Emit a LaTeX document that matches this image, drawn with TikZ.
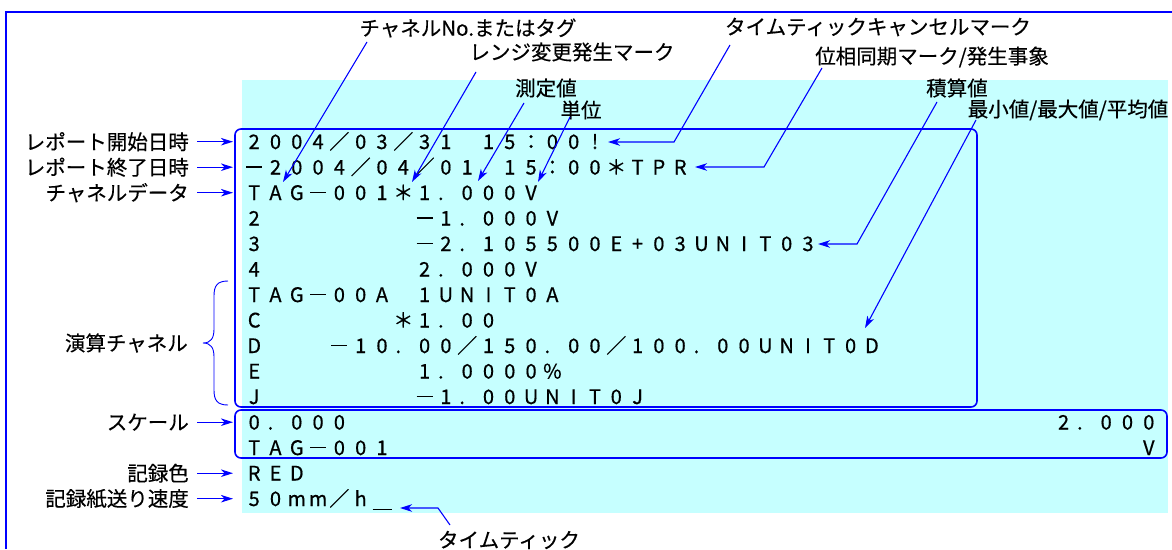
\documentclass[tikz,border=0pt]{standalone}
\usepackage{fontspec}
\setmainfont{Noto Sans CJK JP}
\newfontfamily\lblfamily{Noto Sans CJK JP}[FakeBold=0.35]
\newfontfamily\datafamily{Noto Sans CJK JP}[FakeBold=0.6]
\usetikzlibrary{arrows.meta,fit}
\definecolor{bgcyan}{RGB}{198,255,255}
\definecolor{lineblue}{RGB}{0,0,255}
\newcommand\lblfont{\lblfamily\fontsize{20.5pt}{24pt}\selectfont}
\newcommand\datafont{\datafamily\fontsize{20pt}{24pt}\selectfont}
\newcommand\ticksym{\rule[-3.5pt]{19pt}{1pt}}

\ExplSyntaxOn
\dim_new:N \l_rs_cell_dim
\dim_set:Nn \l_rs_cell_dim {21.3pt}
\cs_new_protected:Npn \rs_cell:n #1
  {
    \str_if_eq:nnTF {#1} {−}
      { \makebox[\l_rs_cell_dim][c]{\rule[6.6pt]{16pt}{1.6pt}} }
      {
        \str_if_eq:nnTF {#1} {.}
          { \makebox[\l_rs_cell_dim][c]{\hspace*{-10pt}.} }
          { \makebox[\l_rs_cell_dim][c]{#1} }
      }
  }
\NewDocumentCommand \mono { m }
  { \mbox{ \tl_map_function:nN {#1} \rs_cell:n } }
\ExplSyntaxOff

\tikzset{
  lbl/.style={font=\lblfont, inner sep=0pt},
  data/.style={font=\datafont, inner sep=0pt, anchor=base west},
  arr/.style={draw=lineblue, line width=1.1pt, -{Stealth[length=12pt,width=7.5pt,inset=3.5pt]}},
  databox/.style={draw=lineblue, line width=1.6pt, rounded corners=6pt, inner sep=0pt},
  frameline/.style={draw=lineblue, line width=1.2pt},
  bracestyle/.style={draw=lineblue, line width=0.9pt},
}

\begin{document}
\begin{tikzpicture}[x=1pt,y=-1pt]
\useasboundingbox (0,0) rectangle (1172,549);

% outer frame (runs off the right and bottom edges)
\draw[frameline] (6,549) -- (6,12) -- (1172,12);

% cyan paper area and boxes
\node[fill=bgcyan, inner sep=0pt, fit={(242,80) (1168,513)}] (bg) {};
\node[databox, fit={(235,129) (977,407)}] (b1) {};
\node[databox, fit={(235,410) (1167,458)}] (b2) {};

% data rows (cell pitch 21.3pt, first cell starts at x=243.35)
\node[data] (r1)  at (243.35,149)   {\mono{2004／03／31~15：00!}};
\node[data] (r2)  at (243.35,174.5) {\mono{−2004／04／01~15：00＊TPR}};
\node[data] (r3)  at (243.35,200)   {\mono{TAG−001＊1.000V}};
\node[data] (r4)  at (243.35,225.5) {\mono{2~~~~~~~−1.000V}};
\node[data] (r5)  at (243.35,251)   {\mono{3~~~~~~~−2.105500E+03UNIT03}};
\node[data] (r6)  at (243.35,276.5) {\mono{4~~~~~~~2.000V}};
\node[data] (r7)  at (243.35,302)   {\mono{TAG−00A~1UNIT0A}};
\node[data] (r8)  at (243.35,327.5) {\mono{C~~~~~~＊1.00}};
\node[data] (r9)  at (243.35,353)   {\mono{D~~~−10.00／150.00／100.00UNIT0D}};
\node[data] (r10) at (243.35,378.5) {\mono{E~~~~~~~1.0000\%}};
\node[data] (r11) at (243.35,404)   {\mono{J~~~~~~~−1.00UNIT0J}};
\node[data] (r12) at (243.35,429.5) {\mono{0.000}};
\node[data] (r12b) at (1052.75,429.5) {\mono{2.000}};
\node[data] (r13) at (243.35,455)   {\mono{TAG−001}};
\node[data] (r13b) at (1137.95,455) {\mono{V}};
\node[data] (r14) at (243.35,480.5) {\mono{RED}};
\node[data] (r15) at (243.35,506)   {\mono{50mm／h\ticksym}};

% left labels
\node[lbl, anchor=east] (l1) at (189,141.7) {レポート開始日時};
\node[lbl, anchor=east] (l2) at (189,167.2) {レポート終了日時};
\node[lbl, anchor=east] (l3) at (189,192.7) {チャネルデータ};
\node[lbl, anchor=east] (l4) at (188,343)   {演算チャネル};
\node[lbl, anchor=east] (l5) at (189,422.2) {スケール};
\node[lbl, anchor=east] (l6) at (189,473.2) {記録色};
\node[lbl, anchor=east] (l7) at (189,498.7) {記録紙送り速度};

\foreach \i/\y in {1/141.7, 2/167.2, 3/192.7, 5/422.2, 6/473.2, 7/498.7} {
  \coordinate (ls\i) at (197,\y);
  \coordinate (le\i) at (233,\y);
  \draw[arr] (ls\i) -- (le\i);
}

% brace for 演算チャネル
\coordinate (brtop) at (228,281);
\coordinate (brtip) at (203,343);
\coordinate (brbot) at (228,405);
\draw[bracestyle] (brtop) .. controls (217,281) and (214,286) .. (214,296)
  -- (214,329) .. controls (214,338) and (211,343) .. (brtip)
  .. controls (211,343) and (214,348) .. (214,357)
  -- (214,390) .. controls (214,400) and (217,405) .. (brbot);

% top labels
\node[lbl] (t1) at (468,28)  {チャネルNo.またはタグ};
\node[lbl] (t2) at (572,52)  {レンジ変更発生マーク};
\node[lbl] (t3) at (546,88)  {測定値};
\node[lbl] (t4) at (581,110) {単位};
\node[lbl] (t5) at (878,27)  {タイムティックキャンセルマーク};
\node[lbl] (t6) at (932,57)  {位相同期マーク/発生事象};
\node[lbl] (t7) at (957,88)  {積算値};
\node[lbl] (t8) at (1068,110) {最小値/最大値/平均値};
\node[lbl] (t9) at (509,540) {タイムティック};

% connector end points
\coordinate (s1) at (367,42);   \coordinate (e1) at (283,182);
\coordinate (s2) at (476,72);   \coordinate (e2) at (412,182);
\coordinate (s3) at (524,103);  \coordinate (e3) at (478,181);
\coordinate (s4) at (570,117);  \coordinate (e4) at (538,182);
\coordinate (s5) at (730,45);   \coordinate (k5) at (674,142); \coordinate (e5) at (608,142);
\coordinate (s6) at (822,68);   \coordinate (k6) at (764,167); \coordinate (e6) at (695,167);
\coordinate (s7) at (937,102);  \coordinate (k7) at (857,244); \coordinate (e7) at (818,244);
\coordinate (s8) at (976,120);  \coordinate (e8) at (865,328);
\coordinate (s9) at (450,525);  \coordinate (k9) at (438,508); \coordinate (e9) at (400,508);

\draw[arr] (s1) -- (e1);
\draw[arr] (s2) -- (e2);
\draw[arr] (s3) -- (e3);
\draw[arr] (s4) -- (e4);
\draw[arr] (s5) -- (k5) -- (e5);
\draw[arr] (s6) -- (k6) -- (e6);
\draw[arr] (s7) -- (k7) -- (e7);
\draw[arr] (s8) -- (e8);
\draw[arr] (s9) -- (k9) -- (e9);
\end{tikzpicture}
\end{document}
